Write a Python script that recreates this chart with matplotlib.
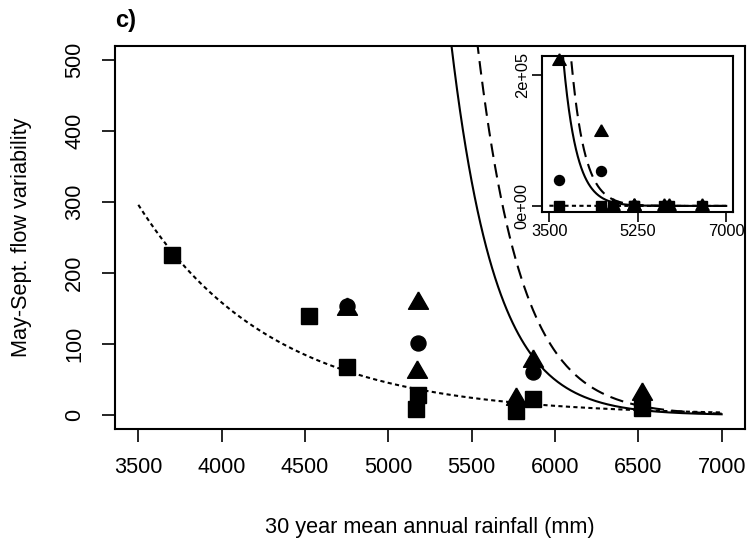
import numpy as np
import matplotlib.pyplot as plt
from matplotlib.markers import MarkerStyle

plt.rcParams['font.family'] = ['Liberation Sans', 'DejaVu Sans']

# observed points (rainfall mm, flow variability)
rain_sq = [3700, 4525, 4750, 5165, 5175, 5765, 5870, 6520]
flow_sq = [226, 139, 67, 8, 28, 6, 22, 10]
rain_ci = [3700, 4525, 4750, 5175, 5870]
flow_ci = [40000, 53000, 153, 102, 60]
rain_tr = [3700, 4525, 4750, 5170, 5175, 5765, 5870, 6520]
flow_tr = [220000, 112000, 150, 60, 158, 22, 76, 29]

# fitted exponential curves: y = a * exp(-b * (x - 3500))
fit_dot = (296, 0.00125)
fit_solid = (631600, 0.00378)
fit_dash = (1142500, 0.00378)

xticks = [3500, 4000, 4500, 5000, 5500, 6000, 6500, 7000]
yticks = [0, 100, 200, 300, 400, 500]

xs = np.linspace(3500, 7000, 400)


def curve(p):
    return p[0] * np.exp(-p[1] * (xs - 3500))


tri = MarkerStyle([(0, 1), (0.866, -0.5), (-0.866, -0.5), (0, 1)])

W, H = 752, 542
fig = plt.figure(figsize=(W / 100, H / 100), dpi=100)


def box(l, r, t, b):
    return [l / W, 1 - b / H, (r - l) / W, (b - t) / H]


ax = fig.add_axes(box(115, 745, 45.7, 429.3))
lw = 1.5
ax.plot(xs, curve(fit_dot), color='black', lw=lw, dashes=(2, 1.6))
ax.plot(xs, curve(fit_solid), color='black', lw=lw)
ax.plot(xs, curve(fit_dash), color='black', lw=lw, dashes=(6.5, 3.5))
ax.plot(rain_sq, flow_sq, 's', color='black', ms=11.5, ls='none')
ax.plot(rain_ci, flow_ci, 'o', color='black', ms=10.8, ls='none')
ax.plot(rain_tr, flow_tr, marker=tri, color='black', ms=16.6, ls='none')
ax.set_xlim(3360, 7140)
ax.set_ylim(-20, 520)
ax.set_xticks(xticks)
ax.set_yticks(yticks)
ax.tick_params(axis='both', length=9.5, width=1.2, labelsize=15.6)
ax.tick_params(axis='x', pad=10.5)
ax.tick_params(axis='y', pad=12)
for lab in ax.get_yticklabels():
    lab.set_rotation(90)
    lab.set_va('center')
for s in ax.spines.values():
    s.set_linewidth(1.5)

fig.text(430 / W, 1 - 533.5 / H, '30 year mean annual rainfall (mm)',
         ha='center', va='baseline', fontsize=15.6)
fig.text(22 / W, 1 - 237.5 / H, 'May-Sept. flow variability',
         ha='center', va='center', rotation=90, fontsize=15.6)
fig.text(115 / W, 1 - 27.5 / H, 'c)', ha='left', va='baseline',
         fontsize=17, fontweight='bold')

# inset with full range
ins = fig.add_axes(box(542.3, 733.3, 55.7, 211.7))
ins.set_facecolor('white')
ins.plot(xs, curve(fit_dot), color='black', lw=lw, dashes=(2, 1.6))
ins.plot(xs, curve(fit_solid), color='black', lw=lw)
ins.plot(xs, curve(fit_dash), color='black', lw=lw, dashes=(6.5, 3.5))
ins.plot(rain_sq, flow_sq, 's', color='black', ms=7.2, ls='none', clip_on=False)
ins.plot(rain_ci, flow_ci, 'o', color='black', ms=7.2, ls='none', clip_on=False)
ins.plot(rain_tr, flow_tr, marker=tri, color='black', ms=11.1, ls='none', clip_on=False)
ins.set_xlim(3360, 7140)
ins.set_ylim(-8800, 228800)
ins.set_xticks([3500, 5250, 7000])
ins.set_yticks([0, 200000])
ins.set_yticklabels(['0e+00', '2e+05'])
ins.tick_params(axis='both', length=7, width=1.2, labelsize=11.8, pad=2)
for lab in ins.get_yticklabels():
    lab.set_rotation(90)
    lab.set_va('center')
for s in ins.spines.values():
    s.set_linewidth(1.5)

plt.savefig('out.png', dpi=100)
